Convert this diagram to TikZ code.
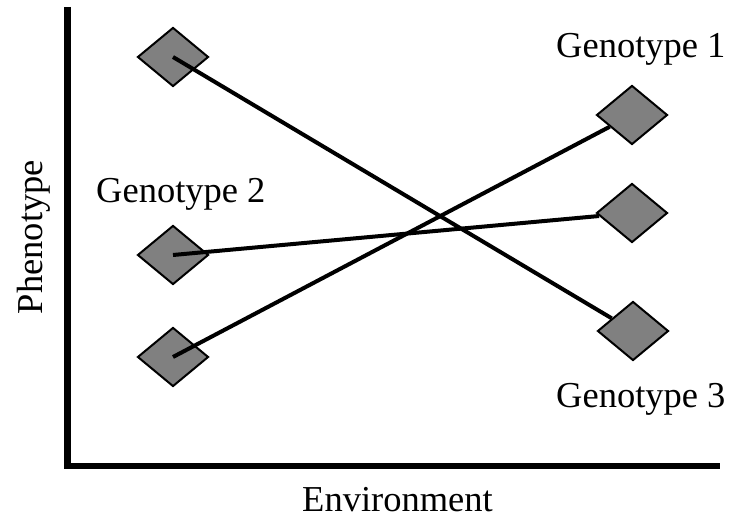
\documentclass[tikz,border=0pt]{standalone}
\usepackage{fontspec}
\setmainfont{Liberation Serif}
\usetikzlibrary{shapes.geometric}
\definecolor{dgray}{RGB}{128,128,128}
\tikzset{
  gdiamond/.style={shape=diamond, draw=black, line width=2pt, fill=dgray,
    minimum width=71pt, minimum height=59pt, inner sep=0pt},
  conn/.style={line width=4pt, draw=black},
  axisline/.style={draw=black},
  lbl/.style={inner sep=0pt, font=\fontsize{36.5}{40}\selectfont}
}
\begin{document}
\begin{tikzpicture}[x=1pt,y=-1pt]
\useasboundingbox (0,0) rectangle (731,518);
% axes
\coordinate (top) at (67,7);
\coordinate (origin) at (67,466);
\coordinate (right) at (720,466);
\draw[axisline, line width=7pt] (top) -- (67,469);
\draw[axisline, line width=6pt] (64,466) -- (right);
% diamonds
\node[gdiamond] (L1) at (173,57) {};
\node[gdiamond] (L2) at (173,255) {};
\node[gdiamond] (L3) at (173,357) {};
\node[gdiamond] (R1) at (632,115) {};
\node[gdiamond] (R2) at (632,213) {};
\node[gdiamond] (R3) at (633,331) {};
% connectors
\draw[conn] (L1.center) -- (R3);
\draw[conn] (L2.center) -- (R2);
\draw[conn] (L3.center) -- (R1);
% labels
\node[lbl, anchor=base west] (g1) at (556,58) {Genotype 1};
\node[lbl, anchor=base west] (g2) at (96,203) {Genotype 2};
\node[lbl, anchor=base west] (g3) at (556,408) {Genotype 3};
\node[lbl, anchor=base west] (env) at (302,511) {Environment};
\node[lbl, anchor=base, rotate=90] (phen) at (42,237) {Phenotype};
\end{tikzpicture}
\end{document}
